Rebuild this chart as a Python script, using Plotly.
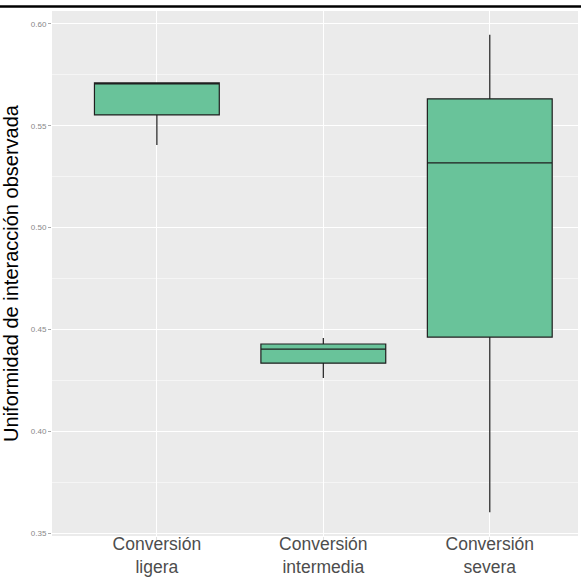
import plotly.graph_objects as go

categories = ["Conversión<br>ligera", "Conversión<br>intermedia", "Conversión<br>severa"]
lower_whisker = [0.5406, 0.4262, 0.3604]
q1_vals = [0.5553, 0.4335, 0.4463]
median_vals = [0.5710, 0.4404, 0.5318]
q3_vals = [0.5710, 0.4429, 0.5632]
upper_whisker = [0.5710, 0.4458, 0.5946]
y_ticks = [0.35, 0.40, 0.45, 0.50, 0.55, 0.60]

W, H = 581, 579
ml, mr, mt, mb = 52, 3, 11, 43

xpos = list(range(len(categories)))

fig = go.Figure()
fig.add_trace(go.Box(
    x=xpos,
    lowerfence=lower_whisker,
    q1=q1_vals,
    median=median_vals,
    q3=q3_vals,
    upperfence=upper_whisker,
    width=0.75,
    whiskerwidth=0,
    fillcolor="#69C39A",
    line=dict(color="#1f1f1f", width=1.2),
    boxpoints=False,
    showlegend=False,
    hoverinfo="skip",
))

fig.update_layout(
    width=W, height=H,
    margin=dict(l=ml, r=mr, t=mt, b=mb),
    paper_bgcolor="white",
    plot_bgcolor="#EBEBEB",
    font=dict(family="Liberation Sans, Arial, sans-serif"),
    xaxis=dict(
        range=[-0.63, 2.53],
        tickvals=xpos,
        ticktext=categories,
        automargin=False,
        showgrid=True, gridcolor="white", gridwidth=1.2,
        zeroline=False, showline=False,
        ticks="outside", ticklen=3, tickcolor="#e0e0e0",
        ticklabelstandoff=-11,
        tickfont=dict(size=17.5, color="#4D4D4D"),
    ),
    yaxis=dict(
        range=[0.3487, 0.6063],
        tickvals=y_ticks,
        ticktext=["0.35", "0.40", "0.45", "0.50", "0.55", "0.60"],
        automargin=False,
        showgrid=True, gridcolor="white", gridwidth=1.2,
        minor=dict(dtick=0.025, tick0=0.325, showgrid=True, gridcolor="#F5F5F5", gridwidth=0.6),
        zeroline=False, showline=False,
        ticks="outside", ticklen=3, tickcolor="#aaaaaa",
        tickfont=dict(size=8, color="#888888"),
        title=dict(text="Uniformidad de interacción observada", font=dict(size=20, color="black"), standoff=6),
    ),
)

pw = W - ml - mr
ph = H - mt - mb
fig.add_shape(
    type="line", xref="paper", yref="paper",
    x0=-ml / pw, x1=1 + mr / pw,
    y0=1 + (mt - 6.5) / ph, y1=1 + (mt - 6.5) / ph,
    line=dict(color="black", width=2.5),
)

fig.write_html("out.html")
